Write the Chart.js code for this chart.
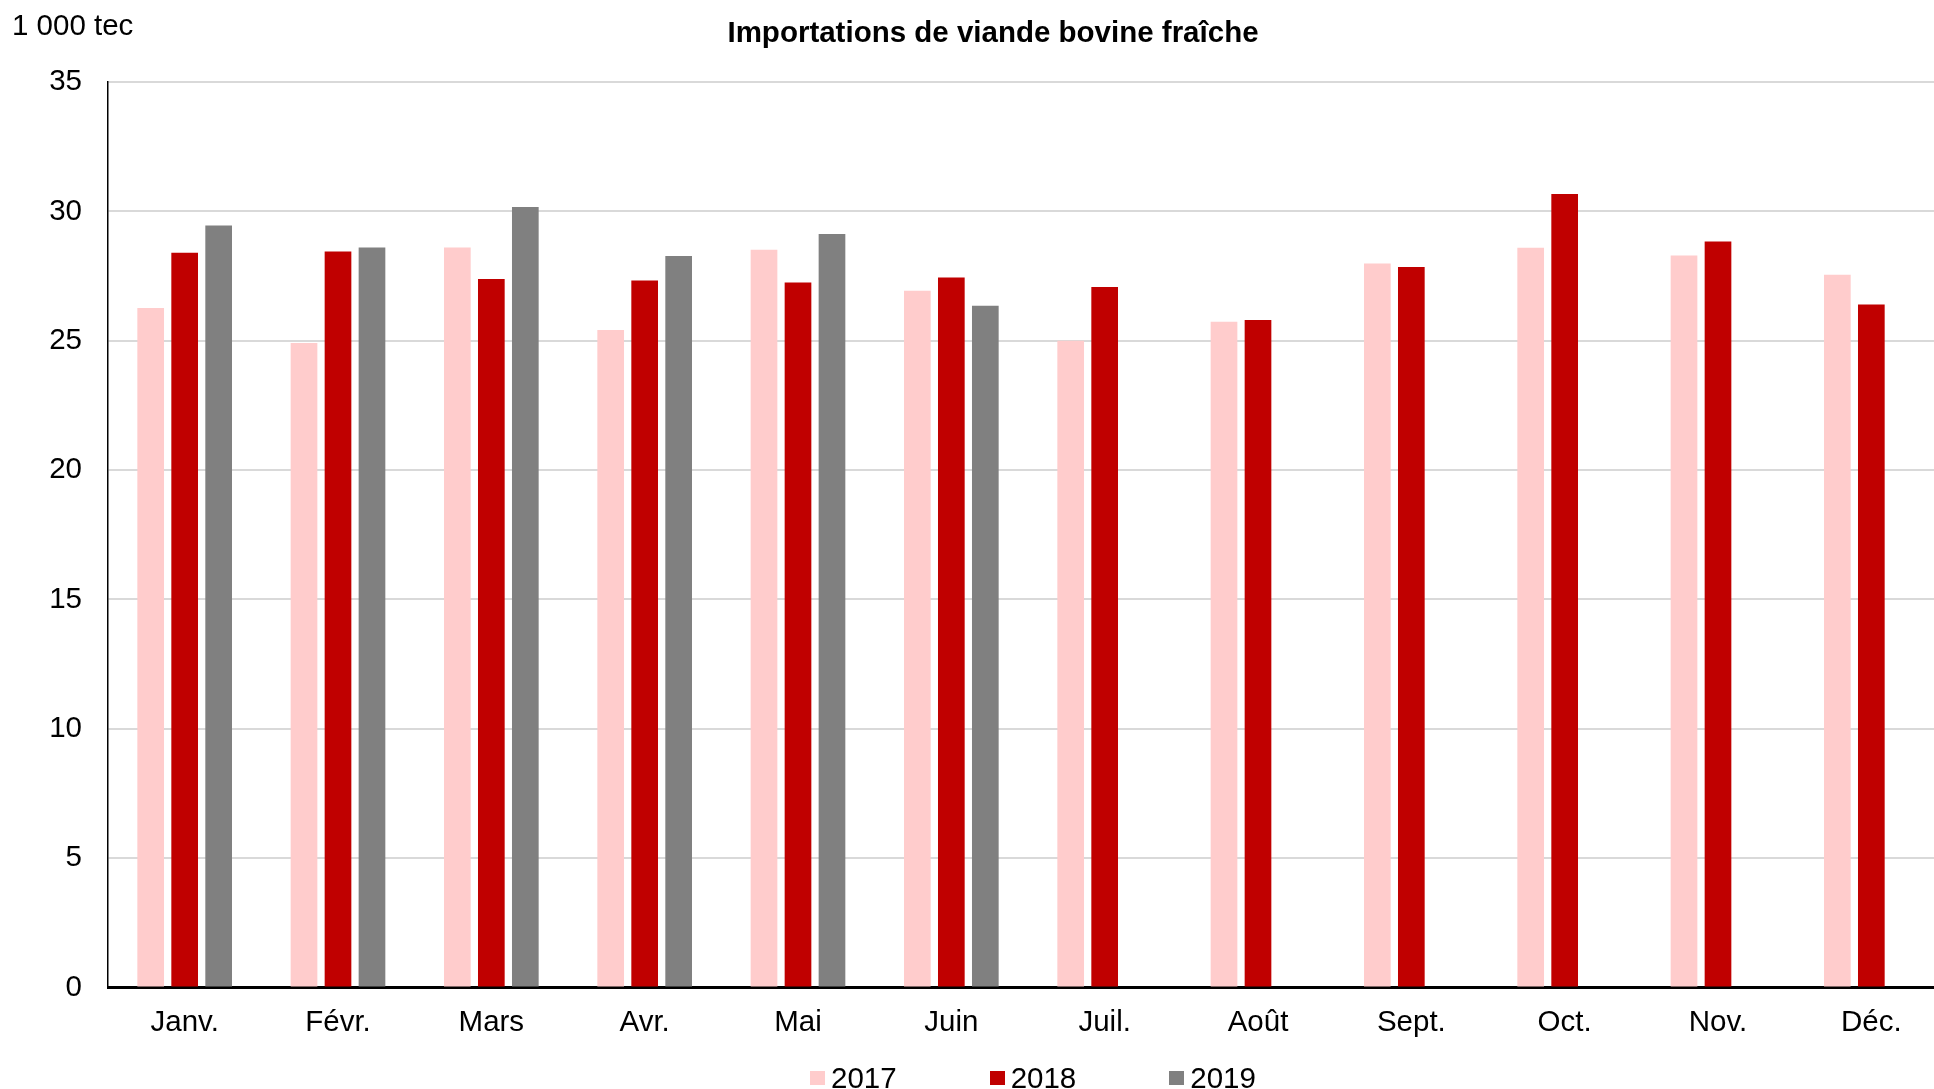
<!DOCTYPE html>
<html lang="fr">
<head>
<meta charset="utf-8">
<title>Importations de viande bovine fraîche</title>
<script src="https://cdn.jsdelivr.net/npm/chart.js@4.4.0/dist/chart.umd.min.js"></script>
<style>
    html, body { margin: 0; padding: 0; background: #fff; overflow: hidden; }
    #wrap { position: relative; width: 1934px; height: 1089px; overflow: hidden; }
    #importChart { position: absolute; left: 0; top: 0; }
    #legend {
        position: absolute; left: 810px; top: 1063px;
        display: flex; gap: 93px;
        font-family: "Liberation Sans", Arial, sans-serif; font-size: 29.5px; color: #000;
    }
    #legend .item { display: flex; align-items: center; line-height: 30px; }
    #legend .box { width: 15px; height: 14px; margin-right: 6px; }
</style>
</head>
<body>
<div id="wrap">
    <canvas id="importChart" width="1948" height="1089"></canvas>
    <div id="legend"></div>
</div>
<script>
// Données (1 000 tec)
const months = ['Janv.', 'Févr.', 'Mars', 'Avr.', 'Mai', 'Juin', 'Juil.', 'Août', 'Sept.', 'Oct.', 'Nov.', 'Déc.'];
const imports2017 = [26.27, 24.91, 28.60, 25.42, 28.52, 26.93, 25.00, 25.73, 27.99, 28.59, 28.29, 27.55];
const imports2018 = [28.40, 28.45, 27.39, 27.33, 27.25, 27.44, 27.08, 25.80, 27.85, 30.67, 28.84, 26.40];
const imports2019 = [29.45, 28.60, 30.17, 28.28, 29.13, 26.35, null, null, null, null, null, null];
const yearLabels = ['2017', '2018', '2019'];
const yearColors = ['#FFCCCC', '#C00000', '#808080'];

const chartTitle = 'Importations de viande bovine fraîche';
const unitLabel = '1 000 tec';
const FONT = '"Liberation Sans", Arial, sans-serif';

// titre + unité dessinés directement sur le canvas
const textPlugin = {
    id: 'titleText',
    afterDraw(chart) {
        const ctx = chart.ctx;
        ctx.save();
        ctx.fillStyle = '#000';
        ctx.textBaseline = 'middle';
        ctx.font = 'bold 29.5px ' + FONT;
        ctx.textAlign = 'center';
        ctx.fillText(chartTitle, 993, 34);
        ctx.font = '29.5px ' + FONT;
        ctx.textAlign = 'left';
        ctx.fillText(unitLabel, 12, 27);
        ctx.restore();
    }
};

function buildLegend(datasets) {
    const el = document.getElementById('legend');
    el.innerHTML = '';
    datasets.forEach(ds => {
        const item = document.createElement('div');
        item.className = 'item';
        item.innerHTML = `<span class="box" style="background:${ds.backgroundColor}"></span><span>${ds.label}</span>`;
        el.appendChild(item);
    });
}

function initChart() {
    const canvas = document.getElementById('importChart');
    if (typeof Chart === 'undefined') {
        console.error('Chart.js non chargé');
        return;
    }

    const series = [imports2017, imports2018, imports2019];
    const datasets = series.map((data, i) => ({
        label: yearLabels[i],
        data,
        backgroundColor: yearColors[i],
        borderWidth: 0,
        barPercentage: 0.785,
        categoryPercentage: 0.665
    }));

    new Chart(canvas.getContext('2d'), {
        type: 'bar',
        data: { labels: months, datasets },
        options: {
            responsive: false,
            animation: false,
            layout: { padding: { top: 82, right: 0, bottom: 30, left: 0 } },
            plugins: {
                legend: { display: false },
                title: { display: false },
                tooltip: { enabled: false }
            },
            scales: {
                x: {
                    z: 1, // axe dessiné par-dessus les barres
                    grid: { display: false, drawTicks: false },
                    border: { display: true, color: '#000', width: 3 },
                    ticks: { color: '#000', padding: 18, font: { family: FONT, size: 29.5 }, maxRotation: 0 }
                },
                y: {
                    min: 0,
                    max: 35,
                    afterFit(scale) { scale.width = 108; },
                    grid: { color: '#D9D9D9', lineWidth: 2, drawTicks: false },
                    border: { display: true, color: '#000', width: 1.5 },
                    ticks: { stepSize: 5, color: '#000', padding: 26, font: { family: FONT, size: 29.5 } }
                }
            }
        },
        plugins: [textPlugin]
    });

    buildLegend(datasets);
}

window.addEventListener('DOMContentLoaded', () => {
    try {
        initChart();
    } catch (err) {
        console.error('Erreur graphique:', err);
    }
});
</script>
</body>
</html>
